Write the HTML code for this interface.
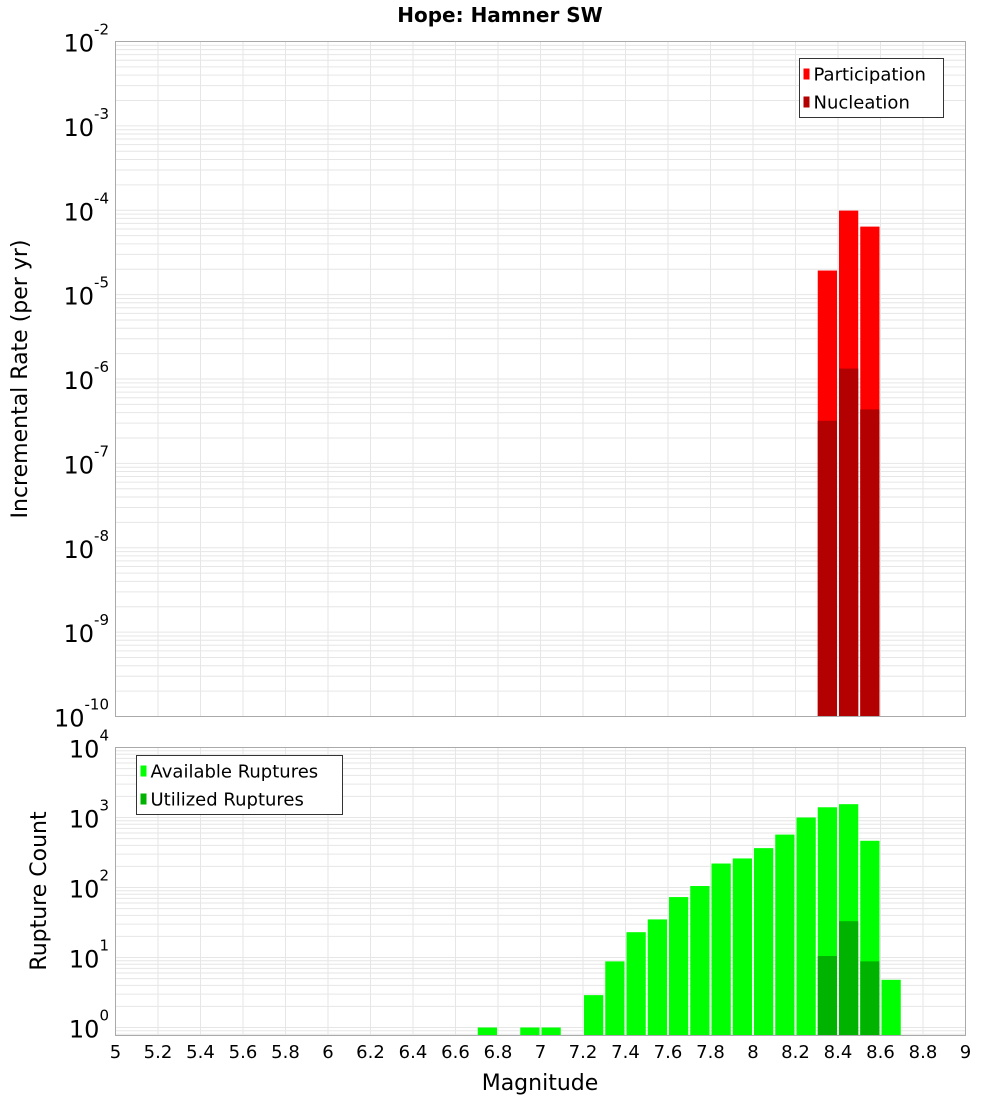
<!DOCTYPE html>
<html><head><meta charset="utf-8"><style>
body{margin:0;background:#fff;}
svg{display:block;font-family:"DejaVu Sans","Liberation Sans",sans-serif;}
</style></head><body>
<svg id="c" width="1000" height="1100" xmlns="http://www.w3.org/2000/svg"></svg>
<script>
const binStarts = [8.3, 8.4, 8.5];
const participation = [1.93e-5, 9.9e-5, 6.4e-5];
const nucleation = [3.2e-7, 1.33e-6, 4.36e-7];
const countBins = [6.7, 6.9, 7.0, 7.2, 7.3, 7.4, 7.5, 7.6, 7.7, 7.8, 7.9, 8.0, 8.1, 8.2, 8.3, 8.4, 8.5, 8.6];
const available = [1, 1, 1, 2.9, 8.8, 23, 35, 73, 105, 220, 260, 365, 570, 1000, 1400, 1550, 465, 4.8];
const utilBins = [8.3, 8.4, 8.5];
const utilized = [10.5, 33, 8.8];
const xTicks = [5,5.2,5.4,5.6,5.8,6,6.2,6.4,6.6,6.8,7,7.2,7.4,7.6,7.8,8,8.2,8.4,8.6,8.8,9];
const topDecades = [-2,-3,-4,-5,-6,-7,-8,-9,-10];
const botDecades = [4,3,2,1,0];

const NS="http://www.w3.org/2000/svg";
const svg=document.getElementById('c');
function mk(tag,attrs,parent){const e=document.createElementNS(NS,tag);for(const k in attrs)e.setAttribute(k,attrs[k]);(parent||svg).appendChild(e);return e;}
const L=115.5,R=965.5;
const x=m=>L+(m-5)*(R-L)/4;
const T1=41.5,B1=716.5; const yTop=v=>T1+(-2-Math.log10(v))*(B1-T1)/8;
const T2=747.5,dec2=70; const yBot=v=>T2+(4-Math.log10(v))*dec2; const B2=1035.5;

// title
let t=mk('text',{x:500,y:22,'text-anchor':'middle','font-size':20,'font-weight':'bold'});


t.textContent='Hope: Hamner SW';

function grid(T,B,yf,lo,hi,name){
  const g=mk('g',{});
  
  
  for(const m of xTicks){mk('line',{x1:x(m),x2:x(m),y1:T,y2:B,stroke:'#e6e6e6','stroke-width':1},g);}
  for(let d=lo;d<hi;d++){for(let k=1;k<10;k++){const yy=yf(k*Math.pow(10,d));if(yy>=T&&yy<=B)mk('line',{x1:L,x2:R,y1:yy,y2:yy,stroke:'#e6e6e6','stroke-width':1},g);}}
}
grid(T1,B1,yTop,-10,-2,'top-grid');
grid(T2,B2,yBot,-1,4,'bottom-grid');

function bar(m,v,yf,B,fill,name){
  const y0=yf(v);
  const r=mk('rect',{x:x(m)+1,y:y0,width:x(m+0.1)-x(m)-2,height:B-y0,fill:fill});
  
  
}
participation.forEach((v,i)=>bar(binStarts[i],v,yTop,B1,'#ff0000','participation-bar'));
nucleation.forEach((v,i)=>bar(binStarts[i],v,yTop,B1,'#b30000','nucleation-bar'));
available.forEach((v,i)=>bar(countBins[i],v,yBot,B2,'#00ff00','available-bar'));
utilized.forEach((v,i)=>bar(utilBins[i],v,yBot,B2,'#00b300','utilized-bar'));

let f1=mk('rect',{x:L,y:T1,width:R-L,height:B1-T1,fill:'none',stroke:'#aaa'});


let f2=mk('rect',{x:L,y:T2,width:R-L,height:B2-T2,fill:'none',stroke:'#aaa'});



function ylabel(d,yy,name){
  const g=mk('text',{x:109,y:yy+10,'text-anchor':'end','font-size':24});
  
  
  const a=mk('tspan',{},g);a.textContent='10';
  const b=mk('tspan',{dy:-17,'font-size':15},g);b.textContent=String(d);
}
topDecades.forEach(d=>ylabel(d,yTop(Math.pow(10,d)),'top-y-tick-label'));
botDecades.forEach(d=>ylabel(d,yBot(Math.pow(10,d)),'bottom-y-tick-label'));

xTicks.forEach(m=>{const e=mk('text',{x:x(m),y:1058,'text-anchor':'middle','font-size':18});
  
  
  e.textContent=String(m);});

let xl=mk('text',{x:540,y:1090,'text-anchor':'middle','font-size':22});


xl.textContent='Magnitude';
let yl1=mk('text',{x:0,y:0,'text-anchor':'middle','font-size':22,transform:'translate(27,379) rotate(-90)'});


yl1.textContent='Incremental Rate (per yr)';
let yl2=mk('text',{x:0,y:0,'text-anchor':'middle','font-size':22,transform:'translate(46,891) rotate(-90)'});


yl2.textContent='Rupture Count';

function legend(x0,y0,w,items,name){
  const g=mk('g',{});
  
  
  mk('rect',{x:x0,y:y0,width:w,height:59,fill:'#fff',stroke:'#333'},g);
  items.forEach((it,i)=>{
    mk('rect',{x:x0+4,y:y0+10+i*28,width:6,height:11,fill:it[1]},g);
    const tx=mk('text',{x:x0+14,y:y0+22+i*28,'font-size':18},g);tx.textContent=it[0];
  });
}
legend(799.5,58.5,144,[['Participation','#ff0000'],['Nucleation','#b30000']],'top-legend');
legend(136.5,755.5,206,[['Available Ruptures','#00ff00'],['Utilized Ruptures','#00b300']],'bottom-legend');
</script>
</body></html>
